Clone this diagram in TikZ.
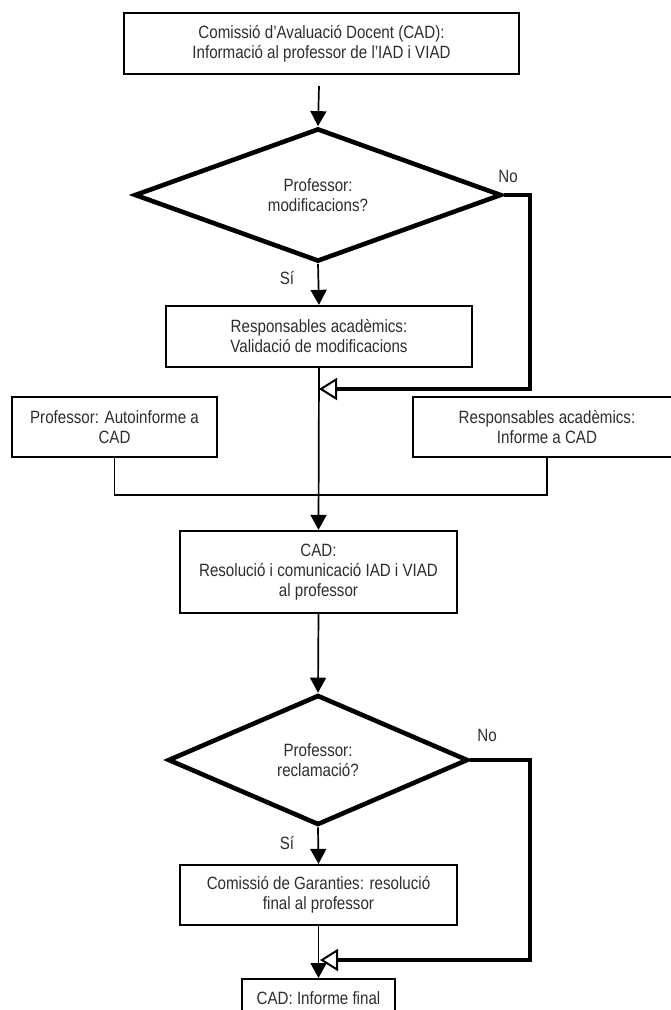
\documentclass[tikz,border=0pt]{standalone}
\usepackage{fontspec}
\setmainfont{Liberation Sans}[FakeStretch=0.85]
\usetikzlibrary{shapes.geometric,arrows.meta}
\begin{document}
\begin{tikzpicture}[x=1pt,y=-1pt,
 every node/.style={font=\fontsize{17.8}{20}\selectfont, text=black!82, align=center},
 box/.style={draw=black, line width=2.3pt, inner sep=0pt},
 dec/.style={draw=black, diamond, line width=4.6pt, inner sep=0pt},
 flow/.style={line width=1.7pt, -{Triangle[length=15pt,width=16pt]}},
 noflow/.style={line width=4.6pt, -{Triangle[open,length=18pt,width=22pt,line width=2pt,fill=white]}},
 link/.style={line width=1.6pt}
]
\useasboundingbox (0,0) rectangle (671,1010);
\fill[white] (0,0) rectangle (671,1010);

\node[box, minimum width=395pt, minimum height=61pt] (top) at (321.5,43.5)
  {Comissió d'Avaluació Docent (CAD):\\Informació al professor de l'IAD i VIAD};
\coordinate (s0) at (319,86);
\node[dec, minimum width=367pt, minimum height=130pt] (d1) at (318,195) {Professor:\\modificacions?};
\node (no1) at (508,176) {No};
\node (si1) at (287,278) {Sí};
\node[box, minimum width=306pt, minimum height=61pt] (b2) at (319,336.5)
  {Responsables acadèmics:\\Validació de modificacions};
\coordinate (m1) at (319,389);
\coordinate (r1) at (530,195);
\coordinate (r1b) at (530,389);
\node[box, minimum width=205pt, minimum height=60pt] (lb) at (114.5,427)
  {Professor: Autoinforme a\\CAD};
\node[box, minimum width=268pt, minimum height=60pt] (rb) at (547,427)
  {Responsables acadèmics:\\Informe a CAD};
\node[box, minimum width=277pt, minimum height=82pt] (cad) at (318.5,572)
  {CAD:\\Resolució i comunicació IAD i VIAD\\al professor};
\node[dec, minimum width=300pt, minimum height=130pt] (d2) at (318,760) {Professor:\\reclamació?};
\node (no2) at (487,735) {No};
\node (si2) at (287,843) {Sí};
\node[box, minimum width=277pt, minimum height=60pt] (gar) at (318.5,895)
  {Comissió de Garanties: resolució\\final al professor};
\coordinate (m2) at (320,960);
\coordinate (r2) at (530,760);
\coordinate (r2b) at (530,960);
\node[box, anchor=north, minimum width=153pt, minimum height=0pt, inner ysep=0pt,
  text height=25pt, text depth=40pt] (fin) at (318.5,978) {CAD: Informe final};

\draw[flow] (s0) -- (d1.north);
\draw[flow] (d1.south) -- (b2.north);
\draw[flow] (b2.south) -- (cad.north);
\draw[noflow] (d1.east) -- (r1) -- (r1b) -- (m1);
\draw[link] (lb.south) -- ++(0,37) -| (rb.south);
\draw[flow] (cad.south) -- (d2.north);
\draw[flow] (d2.south) -- (gar.north);
\draw[noflow] (d2.east) -- (r2) -- (r2b) -- (m2);
\draw[flow] (gar.south) -- (fin.north);
\end{tikzpicture}
\end{document}
